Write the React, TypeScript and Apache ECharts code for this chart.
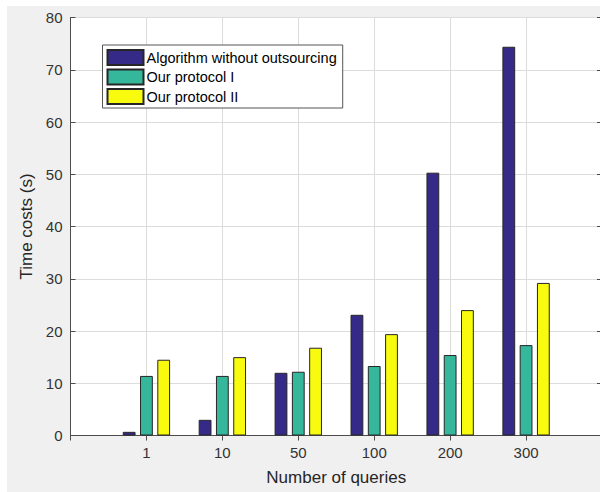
import React, { useEffect, useRef } from "react";
import * as echarts from "echarts";

const categories = ["1", "10", "50", "100", "200", "300"];
const seriesNames = ["Algorithm without outsourcing", "Our protocol I", "Our protocol II"];
const withoutOutsourcing = [0.7, 3.0, 12.0, 23.1, 50.3, 74.4];
const protocolI = [11.4, 11.4, 12.2, 13.3, 15.4, 17.3];
const protocolII = [14.5, 15.0, 16.8, 19.4, 24.0, 29.2];
const yTicks = { min: 0, max: 80, interval: 10 };
const colors = ["#352a87", "#35b79c", "#f9fb0e"];

const FONT = '"Liberation Sans", Arial, Helvetica, sans-serif';

export default function App() {
  const ref = useRef<HTMLDivElement>(null);
  useEffect(() => {
    if (!ref.current) return;
    const chart = echarts.init(ref.current, null, { renderer: "svg" });
    const paddedCats = ["", ...categories, ""];
    const pad = (arr: number[]) => [null, ...arr, null];
    const values = [withoutOutsourcing, protocolI, protocolII];
    const axisColor = "#4d4d4d";
    const gridColor = "#dcdcdc";
    chart.setOption({
      animation: false,
      backgroundColor: "#ffffff",
      textStyle: { fontFamily: FONT },
      graphic: [
        {
          type: "rect",
          z: -100,
          shape: { x: 7, y: 6, width: 600, height: 500 },
          style: { fill: "#f0f0f0" },
          silent: true,
        },
      ],
      grid: {
        left: 70.5,
        top: 17.5,
        width: 531.5,
        height: 418,
        show: true,
        backgroundColor: "#ffffff",
        borderColor: axisColor,
        borderWidth: 1,
        containLabel: false,
        outerBoundsMode: "none",
      },
      legend: {
        orient: "vertical",
        left: 102.5,
        top: 45,
        data: seriesNames,
        itemWidth: 36,
        itemHeight: 15,
        itemGap: 2.5,
        padding: [4, 6, 3, 4],
        borderColor: "#555555",
        borderWidth: 1,
        backgroundColor: "#ffffff",
        borderRadius: 0,
        icon: "rect",
        textStyle: {
          fontSize: 14.5,
          lineHeight: 15,
          color: "#000000",
          fontFamily: FONT,
          padding: [0, 0, 0, -2],
        },
      },
      xAxis: [
        {
          type: "category",
          data: paddedCats,
          boundaryGap: false,
          name: "Number of queries",
          nameLocation: "middle",
          nameGap: 33,
          nameTextStyle: { fontSize: 17, color: "#262626", fontFamily: FONT },
          axisLine: { show: true, lineStyle: { color: axisColor, width: 1 } },
          axisTick: { show: true, inside: true, length: 5, interval: 0, lineStyle: { color: axisColor } },
          axisLabel: { interval: 0, fontSize: 15, color: "#333333", margin: 9.5, fontFamily: FONT },
          splitLine: { show: true, interval: 0, lineStyle: { color: gridColor, width: 1 } },
        },
        {
          type: "category",
          data: paddedCats,
          boundaryGap: false,
          position: "top",
          axisLine: { show: false },
          axisTick: { show: true, inside: true, length: 5, interval: 0, lineStyle: { color: axisColor } },
          axisLabel: { show: false },
          splitLine: { show: false },
        },
      ],
      yAxis: [
        {
          type: "value",
          min: yTicks.min,
          max: yTicks.max,
          interval: yTicks.interval,
          name: "Time costs (s)",
          nameLocation: "middle",
          nameGap: 28,
          nameTextStyle: { fontSize: 17, color: "#262626", fontFamily: FONT },
          axisLine: { show: true, lineStyle: { color: axisColor, width: 1 } },
          axisTick: { show: true, inside: true, length: 5, lineStyle: { color: axisColor } },
          axisLabel: { fontSize: 15, color: "#333333", margin: 8, fontFamily: FONT },
          splitLine: { show: true, lineStyle: { color: gridColor, width: 1 } },
        },
        {
          type: "value",
          min: yTicks.min,
          max: yTicks.max,
          interval: yTicks.interval,
          position: "right",
          axisLine: { show: false },
          axisTick: { show: true, inside: true, length: 5, lineStyle: { color: axisColor } },
          axisLabel: { show: false },
          splitLine: { show: false },
        },
      ],
      series: seriesNames.map((name, i) => ({
        name,
        type: "bar",
        xAxisIndex: 0,
        yAxisIndex: 0,
        data: pad(values[i]),
        barWidth: 12.8,
        barGap: "35%",
        itemStyle: { color: colors[i], borderColor: "#262626", borderWidth: 1 },
      })),
    });
    return () => chart.dispose();
  }, []);
  return (
    <div
      ref={ref}
      style={{ position: "fixed", left: 0, top: 0, width: 600, height: 492 }}
    />
  );
}
